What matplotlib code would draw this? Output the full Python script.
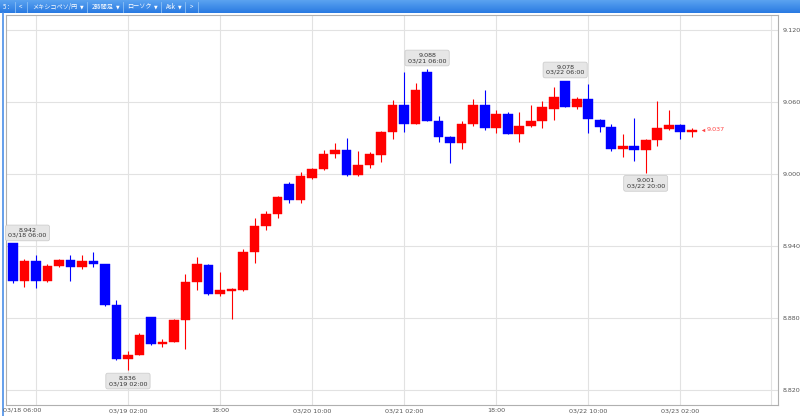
"""MXN/JPY 2-hour candlestick chart."""

import matplotlib
matplotlib.use("Agg")
import matplotlib.pyplot as plt
import numpy as np
import pandas as pd
from matplotlib.lines import Line2D

# 2h candles starting 03/18 06:00
start_time = "2024-03-18 06:00"
opens = [8.942, 8.911, 8.927, 8.911, 8.923, 8.928, 8.922, 8.927, 8.925, 8.891,
         8.846, 8.849, 8.881, 8.858, 8.860, 8.878, 8.910, 8.924, 8.900, 8.9026,
         8.903, 8.935, 8.957, 8.967, 8.992, 8.978, 8.997, 9.004, 9.017, 9.020,
         8.999, 9.0075, 9.016, 9.035, 9.058, 9.042, 9.085, 9.044, 9.031, 9.026,
         9.042, 9.058, 9.038, 9.050, 9.033, 9.040, 9.0445, 9.0545, 9.078, 9.056,
         9.063, 9.045, 9.039, 9.021, 9.0235, 9.020, 9.028, 9.0376, 9.041, 9.035]
closes = [8.911, 8.927, 8.911, 8.923, 8.928, 8.922, 8.927, 8.925, 8.891, 8.846,
          8.849, 8.866, 8.858, 8.860, 8.878, 8.910, 8.925, 8.900, 8.903, 8.904,
          8.935, 8.957, 8.967, 8.981, 8.978, 8.998, 9.004, 9.017, 9.020, 8.999,
          9.0075, 9.017, 9.035, 9.058, 9.042, 9.070, 9.044, 9.031, 9.026, 9.042,
          9.058, 9.038, 9.050, 9.033, 9.040, 9.0445, 9.056, 9.0645, 9.056, 9.063,
          9.046, 9.039, 9.021, 9.0235, 9.020, 9.028, 9.038, 9.041, 9.035, 9.037]
highs = [8.942, 8.929, 8.932, 8.925, 8.929, 8.932, 8.932, 8.935, 8.925, 8.895,
         8.852, 8.867, 8.881, 8.8625, 8.879, 8.9165, 8.931, 8.925, 8.918, 8.905,
         8.937, 8.963, 8.969, 8.982, 8.993, 9.002, 9.005, 9.020, 9.026, 9.030,
         9.019, 9.018, 9.036, 9.062, 9.085, 9.076, 9.088, 9.048, 9.032, 9.044,
         9.063, 9.070, 9.053, 9.052, 9.052, 9.058, 9.061, 9.073, 9.078, 9.0645,
         9.075, 9.046, 9.042, 9.033, 9.0465, 9.029, 9.061, 9.053, 9.042, 9.038]
lows = [8.909, 8.906, 8.905, 8.910, 8.922, 8.911, 8.921, 8.922, 8.890, 8.845,
        8.836, 8.849, 8.857, 8.856, 8.860, 8.854, 8.903, 8.899, 8.898, 8.879,
        8.902, 8.926, 8.953, 8.9635, 8.9755, 8.976, 8.996, 9.003, 9.013, 8.998,
        8.998, 9.005, 9.010, 9.029, 9.035, 9.042, 9.044, 9.0265, 9.009, 9.021,
        9.040, 9.037, 9.034, 9.033, 9.027, 9.039, 9.038, 9.045, 9.056, 9.0545,
        9.034, 9.035, 9.0195, 9.0145, 9.011, 9.001, 9.023, 9.037, 9.029, 9.031]

# annotated swing points (candle index)
peak_idx = [0, 36, 48]
trough_idx = [10, 55]
price_ticks = [8.820, 8.880, 8.940, 9.000, 9.060, 9.120]
toolbar_items = ["5 :", "<", "メキシコペソ/円", "2時間足", "ローソク", "Ask", ">"]
toolbar_dropdown = [False, False, True, True, True, True, False]

UP, DOWN = "#ff0000", "#0000ff"
TXT = "#555555"
W, H = 800, 416


def px_rect(left, top, right, bottom):
    return [left / W, 1 - bottom / H, (right - left) / W, (bottom - top) / H]


times = pd.date_range(start_time, periods=len(opens), freq="2h")
x = np.arange(len(opens))
o, c, h, l = map(np.array, (opens, closes, highs, lows))
colors = np.where(c >= o, UP, DOWN)

fig = plt.figure(figsize=(8, 4.16), dpi=100, facecolor="white")
renderer = fig.canvas.get_renderer()

# toolbar
tb = fig.add_axes(px_rect(0, 0, 800, 13))
grad = np.linspace(0, 1, 20).reshape(-1, 1)
tb.imshow(grad, aspect="auto", extent=(0, 800, 13, 0),
          cmap=matplotlib.colors.LinearSegmentedColormap.from_list("tb", ["#5aa2f0", "#2a7be2"]))
tb.set_xlim(0, 800)
tb.set_ylim(13, 0)
tb.axis("off")
cursor = 3.0
for label, dd in zip(toolbar_items, toolbar_dropdown):
    t = tb.text(cursor, 6.8, label, color="white", fontsize=4.4, va="center", ha="left",
                family=["Noto Sans CJK JP", "DejaVu Sans"])
    cursor += t.get_window_extent(renderer).width + 2.5
    if dd:
        a = tb.text(cursor, 6.8, "▼", color="white", fontsize=3.4, va="center", ha="left")
        cursor += a.get_window_extent(renderer).width + 1
    cursor += 2.5
    tb.plot([cursor, cursor], [1.5, 11.5], color="#8cc0f5", lw=0.6)
    cursor += 4.5

# main chart
ax = fig.add_axes(px_rect(6, 15, 778, 405))
ax.set_xlim(-0.6, 66.5)
ax.set_ylim(8.8072, 9.1327)

ax.vlines(x, l, h, colors=colors, lw=0.8, zorder=2)
body = np.where(np.abs(c - o) < 0.0015, 0.0015, c - o)
ax.bar(x, body, bottom=o, width=0.85, color=colors, edgecolor=colors, lw=0.3, zorder=3)

# ticks / grid
tick_mask = ((times - times[2]) % pd.Timedelta(hours=16)) == pd.Timedelta(0)
tick_pos = x[tick_mask]
tick_times = times[tick_mask]
tick_labels = []
prev_day = None
for t in tick_times:
    tick_labels.append(t.strftime("%m/%d %H:%M") if t.day != prev_day else t.strftime("%H:%M"))
    prev_day = t.day
tick_labels[0] = ""
ax.set_xticks(tick_pos, tick_labels)
ax.set_yticks(price_ticks, [f"{v:.3f}" for v in price_ticks])
ax.yaxis.tick_right()
ax.tick_params(axis="both", length=0, labelsize=4.6, labelcolor=TXT)
ax.tick_params(axis="y", pad=3.5)
ax.tick_params(axis="x", pad=2.5)
ax.grid(True, color="#e2e2e2", lw=0.8, zorder=0)
ax.set_axisbelow(True)
ax.plot([0.991, 0.991], [0, 1], transform=ax.transAxes, color="#e2e2e2", lw=0.8)
for sp in ax.spines.values():
    sp.set_color("#b0b0b0")
    sp.set_linewidth(0.8)

fig.text(3 / W, 1 - 410.5 / H, times[0].strftime("%m/%d %H:%M"), fontsize=4.6,
         color=TXT, ha="left", va="center")

# swing annotations
box = dict(boxstyle="round,pad=0.45,rounding_size=0.3", fc="#e6e6e6", ec="#c8c8c8", lw=0.5)
for i in peak_idx:
    dx = 10.5 if i == 0 else 0
    ax.annotate(f"{h[i]:.3f}\n{times[i].strftime('%m/%d %H:%M')}", xy=(i, h[i]),
                xytext=(dx, 4), textcoords="offset points", ha="center", va="bottom",
                fontsize=4.6, color="#333333", bbox=box, linespacing=1.0, zorder=5)
for i in trough_idx:
    ax.annotate(f"{l[i]:.3f}\n{times[i].strftime('%m/%d %H:%M')}", xy=(i, l[i]),
                xytext=(0, -4), textcoords="offset points", ha="center", va="top",
                fontsize=4.6, color="#333333", bbox=box, linespacing=1.0, zorder=5)

# last price marker
last = len(c) - 1
ax.plot(last + 0.95, c[last], marker="<", ms=2.5, color="#ff4444", mew=0, zorder=5)
ax.annotate(f"{c[last]:.3f}", xy=(last + 0.95, c[last]), xytext=(3, 0),
            textcoords="offset points", fontsize=4.6, color="#ff4444", va="center")

# window frame accent
fig.add_artist(Line2D([2.5 / W, 2.5 / W], [0, 1 - 13 / H], transform=fig.transFigure,
                      color="#4a8fe8", lw=1.2))

fig.savefig("out.png", dpi=100, facecolor=fig.get_facecolor())
plt.close(fig)
